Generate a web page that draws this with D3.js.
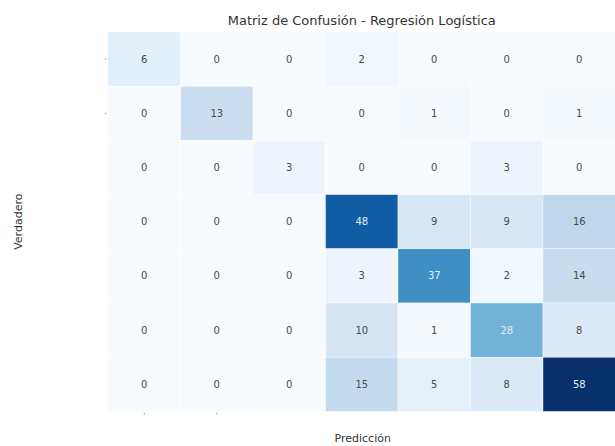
<!DOCTYPE html>
<html><head><meta charset="utf-8">
<script src="https://cdn.jsdelivr.net/npm/d3@7/dist/d3.min.js"></script>
<style>body{margin:0;background:#fff;} text{font-family:"DejaVu Sans",sans-serif;}</style>
</head><body><svg id="c" width="615" height="446"></svg>
<script>
const title = "Matriz de Confusión - Regresión Logística";
const xLabel = "Predicción";
const yLabel = "Verdadero";
const classes = [0,1,2,3,4,5,6];
const matrix = [
  [6,0,0,2,0,0,0],
  [0,13,0,0,1,0,1],
  [0,0,3,0,0,3,0],
  [0,0,0,48,9,9,16],
  [0,0,0,3,37,2,14],
  [0,0,0,10,1,28,8],
  [0,0,0,15,5,8,58]
];
const blues = ["#f7fbff","#deebf7","#c6dbef","#9ecae1","#6baed6","#4292c6","#2171b5","#08519c","#08306b"];

const svg = d3.select("#c");
const mLeft = 108, mTop = 32, cw = 72.5, ch = 54.2;
const x = d3.scaleBand().domain(classes).range([mLeft, mLeft + cw*classes.length]).padding(0);
const y = d3.scaleBand().domain(classes).range([mTop, mTop + ch*classes.length]).padding(0);
const vmax = d3.max(matrix.flat());
const color = d3.scaleLinear().domain(blues.map((_,i)=> i/(blues.length-1)*vmax)).range(blues);

const cells = [];
matrix.forEach((row,i)=>row.forEach((v,j)=>cells.push({i,j,v})));

svg.append("g").selectAll("rect").data(cells).join("rect")
  .attr("x", d=>x(d.j)).attr("y", d=>y(d.i))
  .attr("width", x.bandwidth()).attr("height", y.bandwidth())
  .attr("fill", d=>color(d.v))
  .attr("stroke", "#fff").attr("stroke-width", 0.4);

function lum(c){const r=d3.rgb(c);const f=v=>{v/=255;return v<=0.03928?v/12.92:Math.pow((v+0.055)/1.055,2.4)};return 0.2126*f(r.r)+0.7152*f(r.g)+0.0722*f(r.b);}

svg.append("g").selectAll("text").data(cells).join("text")
  .attr("x", d=>x(d.j)+x.bandwidth()/2).attr("y", d=>y(d.i)+y.bandwidth()/2)
  .attr("text-anchor","middle").attr("dominant-baseline","central")
  .attr("font-size", 10)
  .attr("fill", d=> lum(color(d.v)) > 0.408 ? "#4a4a4a" : "#e8eef8")
  .text(d=>d.v);

// faint ticks
const tg = svg.append("g").attr("stroke","#aaa").attr("stroke-width",0.8);
[0,1].forEach(k=>{
  tg.append("line").attr("x1",mLeft-3.5).attr("x2",mLeft-1).attr("y1",y(k)+y.bandwidth()/2).attr("y2",y(k)+y.bandwidth()/2);
  tg.append("line").attr("y1",mTop+ch*7+1).attr("y2",mTop+ch*7+3.5).attr("x1",x(k)+x.bandwidth()/2).attr("x2",x(k)+x.bandwidth()/2);
});

svg.append("text").attr("x", mLeft + cw*3.5).attr("y", 25)
  .attr("text-anchor","middle").attr("font-size",13).attr("fill","#333").text(title);
svg.append("text").attr("x", mLeft + cw*3.5 + 1).attr("y", 442)
  .attr("text-anchor","middle").attr("font-size",11).attr("fill","#333").text(xLabel);
svg.append("text").attr("transform",`translate(22,${mTop+ch*3.5}) rotate(-90)`)
  .attr("text-anchor","middle").attr("font-size",11).attr("fill","#333").text(yLabel);
</script></body></html>
